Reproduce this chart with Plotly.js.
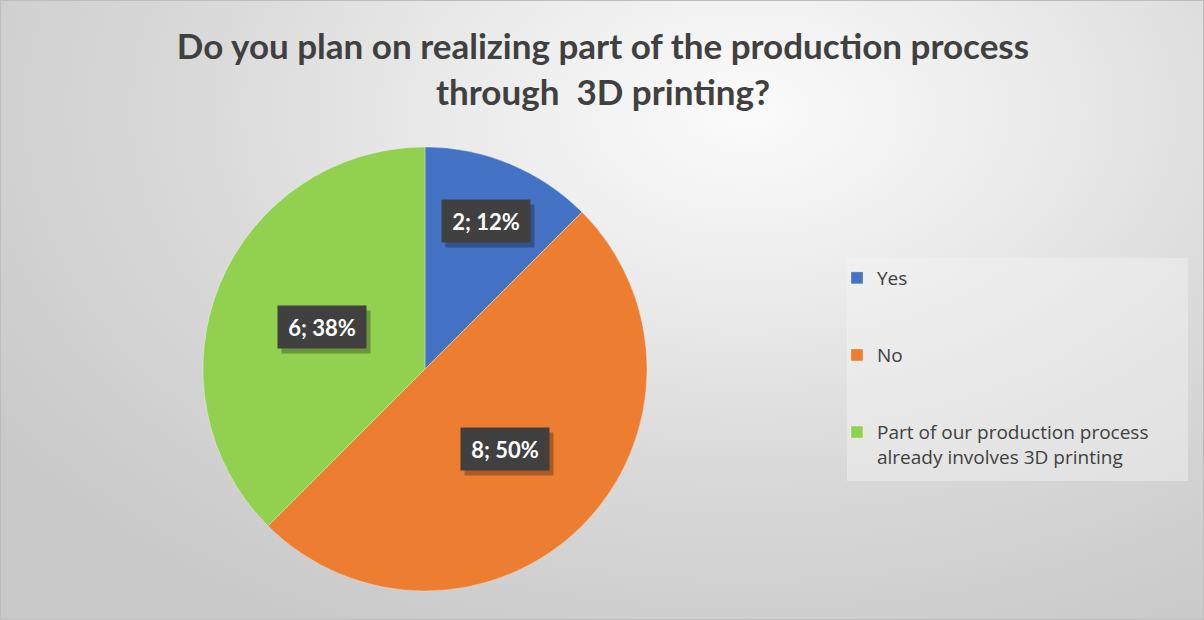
<!DOCTYPE html>
<html>
<head>
<meta charset="utf-8">
<script src="https://cdn.plot.ly/plotly-3.0.1.min.js"></script>
<style>
  html, body { margin: 0; padding: 0; }
  #chart {
    width: 1204px; height: 620px; box-sizing: border-box;
    border: 1px solid #bdbdbd;
    background: radial-gradient(ellipse 75% 95% at 62% 18%, #fbfbfb 0%, #ececec 30%, #dadada 60%, #c9c9c9 100%);
  }
</style>
</head>
<body>
<div id="chart"></div>
<script>
// ---- data ----
const categories = ["Yes", "No", "Part of our production process<br>already involves 3D printing"];
const values = [2, 8, 6];
const percentLabels = ["12%", "50%", "38%"];
const colors = ["#4472C4", "#ED7D31", "#92D050"];
const titleText = "Do you plan on realizing part of the production process<br>through \u00a03D printing?";

// ---- layout constants ----
const W = 1204, H = 620;
const pieCx = 424, pieCy = 368, pieR = 222;
const labelRadiusFrac = [0.72, 0.51, 0.50];
const boxW = 88, boxH = 42;

const domainX = [(pieCx - pieR) / W, (pieCx + pieR) / W];
const domainY = [1 - (pieCy + pieR) / H, 1 - (pieCy - pieR) / H];

// legend labels padded with blank lines for Excel-like spacing
const legendLabels = categories.map((c, i) => i < categories.length - 1 ? c + "<br> <br> " : c);

const trace = {
  type: "pie",
  labels: legendLabels,
  values: values,
  sort: false,
  direction: "clockwise",
  rotation: 0,
  marker: { colors: colors, line: { color: "rgba(255,255,255,0.6)", width: 0.5 } },
  textinfo: "none",
  hoverinfo: "label+value+percent",
  domain: { x: domainX, y: domainY }
};

// data labels computed from slice angles
const total = values.reduce((a, b) => a + b, 0);
const annotations = [];
let cum = 0;
values.forEach((v, i) => {
  const mid = (cum + v / 2) / total * 2 * Math.PI;
  cum += v;
  const r = pieR * labelRadiusFrac[i];
  const px = pieCx + r * Math.sin(mid);
  const py = pieCy - r * Math.cos(mid);
  const txt = v + "; " + percentLabels[i];
  // shadow (empty box)
  annotations.push({
    xref: "paper", yref: "paper", x: (px + 4) / W, y: 1 - (py + 5) / H,
    xanchor: "center", yanchor: "middle",
    text: " ", showarrow: false, bgcolor: "rgba(0,0,0,0.28)", borderpad: 0,
    width: boxW, height: boxH,
    font: { size: 10, color: "rgba(0,0,0,0)" }
  });
  annotations.push({
    xref: "paper", yref: "paper", x: px / W, y: 1 - py / H,
    xanchor: "center", yanchor: "middle",
    text: "<b>" + txt + "</b>", showarrow: false, bgcolor: "#404040", borderpad: 0,
    width: boxW, height: boxH,
    font: { family: "Lato, 'Open Sans', sans-serif", size: 22, color: "#ffffff" }
  });
});

const layout = {
  width: W, height: H,
  margin: { l: 0, r: 0, t: 0, b: 0 },
  paper_bgcolor: "rgba(0,0,0,0)",
  plot_bgcolor: "rgba(0,0,0,0)",
  title: {
    text: "<b>" + titleText + "</b>",
    x: 0.5, xanchor: "center", xref: "paper",
    y: 1 - 58 / H, yanchor: "top", yref: "paper",
    font: { family: "Lato, 'Open Sans', sans-serif", size: 35, color: "#404040" }
  },
  showlegend: true,
  legend: {
    x: 836 / W, xanchor: "left",
    y: 1 - 258 / H, yanchor: "top",
    bgcolor: "rgba(0,0,0,0)",
    valign: "top",
    font: { family: "'Open Sans', Lato, sans-serif", size: 19, color: "#404040" },
    itemclick: false
  },
  shapes: [{
    type: "rect", xref: "paper", yref: "paper",
    x0: 846 / W, x1: 1187 / W, y0: 1 - 480 / H, y1: 1 - 257 / H,
    fillcolor: "rgba(245,245,245,0.45)", line: { width: 0 }, layer: "below"
  }],
  annotations: annotations
};

Plotly.newPlot("chart", [trace], layout, { displayModeBar: false, staticPlot: true });
</script>
</body>
</html>
